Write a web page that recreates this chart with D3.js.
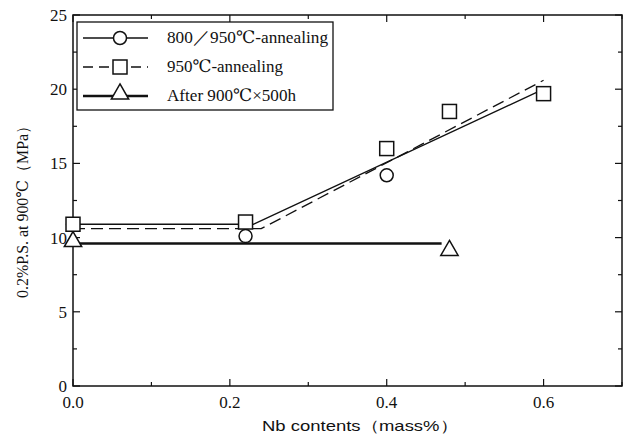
<!DOCTYPE html>
<html>
<head>
<meta charset="utf-8">
<style>
  body { margin: 0; background: #fff; }
  svg text { font-family: "Liberation Serif", "DejaVu Serif", serif; fill: #111; }
</style>
<script src="https://d3js.org/d3.v7.min.js"></script>
</head>
<body>
<script>
// measured points
var circleX = [0.0, 0.22, 0.40];
var circleY = [10.9, 10.1, 14.2];
var squareX = [0.0, 0.22, 0.40, 0.48, 0.60];
var squareY = [10.9, 11.05, 16.0, 18.5, 19.7];
var triX = [0.0, 0.48];
var triY = [9.8, 9.2];

// fitted lines
var solidX = [0.0, 0.23, 0.60];
var solidY = [10.9, 10.9, 20.0];
var dashX = [0.0, 0.24, 0.60];
var dashY = [10.6, 10.6, 20.6];
var thickX = [0.0, 0.47];
var thickY = [9.6, 9.6];

var xTicks = [0.0, 0.2, 0.4, 0.6];
var yTicks = [0, 5, 10, 15, 20, 25];
var legendLabels = ["800／950℃-annealing", "950℃-annealing", "After 900℃×500h"];

var W = 630, H = 441;
var pLeft = 73, pRight = 622, pTop = 15, pBottom = 386;

var x = d3.scaleLinear().domain([0, 0.7]).range([pLeft, pRight]);
var y = d3.scaleLinear().domain([0, 25]).range([pBottom, pTop]);

var svg = d3.select("body").append("svg")
    .attr("width", W).attr("height", H);

// frame
svg.append("rect")
    .attr("x", pLeft).attr("y", pTop)
    .attr("width", pRight - pLeft).attr("height", pBottom - pTop)
    .attr("fill", "none").attr("stroke", "#111").attr("stroke-width", 1.5);

var xMinor = d3.range(0, 0.71, 0.1);
var yMinor = d3.range(0, 25.1, 2.5);

function tickLen(v, step) { return Math.abs(v / step - Math.round(v / step)) < 1e-6 ? 7 : 4; }

// ticks on all four sides, pointing in
xMinor.forEach(function(v) {
  var L = tickLen(v, 0.2);
  svg.append("line").attr("x1", x(v)).attr("x2", x(v)).attr("y1", pBottom).attr("y2", pBottom - L)
    .attr("stroke", "#111").attr("stroke-width", 1.2);
  svg.append("line").attr("x1", x(v)).attr("x2", x(v)).attr("y1", pTop).attr("y2", pTop + L)
    .attr("stroke", "#111").attr("stroke-width", 1.2);
});
yMinor.forEach(function(v) {
  var L = tickLen(v, 5);
  svg.append("line").attr("y1", y(v)).attr("y2", y(v)).attr("x1", pLeft).attr("x2", pLeft + L)
    .attr("stroke", "#111").attr("stroke-width", 1.2);
  svg.append("line").attr("y1", y(v)).attr("y2", y(v)).attr("x1", pRight).attr("x2", pRight - L)
    .attr("stroke", "#111").attr("stroke-width", 1.2);
});

// tick labels
svg.selectAll(".xl").data(xTicks).enter().append("text")
    .attr("x", function(d) { return x(d); })
    .attr("y", pBottom + 22)
    .attr("text-anchor", "middle")
    .attr("font-size", 17)
    .text(function(d) { return d.toFixed(1); });

svg.selectAll(".yl").data(yTicks).enter().append("text")
    .attr("x", pLeft - 6)
    .attr("y", function(d) { return y(d) + 6; })
    .attr("text-anchor", "end")
    .attr("font-size", 17)
    .text(function(d) { return d; });

// axis titles
svg.append("text")
    .attr("x", 262).attr("y", 431)
    .attr("font-size", 15)
    .attr("textLength", 196).attr("lengthAdjust", "spacingAndGlyphs")
    .style("font-family", "'Liberation Sans', Arial, sans-serif")
    .text("Nb contents（mass%）");

svg.append("text")
    .attr("transform", "translate(28,298) rotate(-90)")
    .attr("font-size", 16)
    .attr("textLength", 180).attr("lengthAdjust", "spacingAndGlyphs")
    .text("0.2%P.S. at 900℃（MPa）");

// lines
function pts(xs, ys) { return xs.map(function(v, i) { return [x(v), y(ys[i])]; }); }
var line = d3.line();

svg.append("path").attr("d", line(pts(solidX, solidY)))
    .attr("fill", "none").attr("stroke", "#111").attr("stroke-width", 1.3);
svg.append("path").attr("d", line(pts(dashX, dashY)))
    .attr("fill", "none").attr("stroke", "#111").attr("stroke-width", 1.3)
    .attr("stroke-dasharray", "12,6");
svg.append("path").attr("d", line(pts(thickX, thickY)))
    .attr("fill", "none").attr("stroke", "#111").attr("stroke-width", 2.4);

// markers
function circle(g, cx, cy) {
  g.append("circle").attr("cx", cx).attr("cy", cy).attr("r", 6.5)
    .attr("fill", "#fff").attr("stroke", "#111").attr("stroke-width", 1.5);
}
function square(g, cx, cy) {
  g.append("rect").attr("x", cx - 7).attr("y", cy - 7).attr("width", 14).attr("height", 14)
    .attr("fill", "#fff").attr("stroke", "#111").attr("stroke-width", 1.5);
}
function tri(g, cx, cy) {
  g.append("path").attr("d", d3.symbol().type(d3.symbolTriangle).size(130)())
    .attr("transform", "translate(" + cx + "," + (cy + 1) + ")")
    .attr("fill", "#fff").attr("stroke", "#111").attr("stroke-width", 1.5);
}

triX.forEach(function(v, i) { tri(svg, x(v), y(triY[i])); });
circleX.forEach(function(v, i) { circle(svg, x(v), y(circleY[i])); });
squareX.forEach(function(v, i) { square(svg, x(v), y(squareY[i])); });

// legend
var lg = svg.append("g");
lg.append("rect").attr("x", 77).attr("y", 22).attr("width", 256).attr("height", 88)
  .attr("fill", "#fff").attr("stroke", "#111").attr("stroke-width", 1.3);
var rows = [38, 67, 96];
var textLens = [161, 116, 129];
var styles = [
  { w: 1.3, dash: null, mk: circle },
  { w: 1.3, dash: "10,6", mk: square },
  { w: 2.4, dash: null, mk: tri }
];
legendLabels.forEach(function(t, i) {
  var ln = lg.append("line").attr("x1", 83).attr("x2", 148).attr("y1", rows[i]).attr("y2", rows[i])
    .attr("stroke", "#111").attr("stroke-width", styles[i].w);
  if (styles[i].dash) ln.attr("stroke-dasharray", styles[i].dash);
  styles[i].mk(lg, 120, rows[i] - (i === 2 ? 3 : 0));
  lg.append("text").attr("x", 167).attr("y", rows[i] + 5)
    .attr("font-size", 17)
    .attr("textLength", textLens[i]).attr("lengthAdjust", "spacingAndGlyphs")
    .text(t);
});
</script>
</body>
</html>
